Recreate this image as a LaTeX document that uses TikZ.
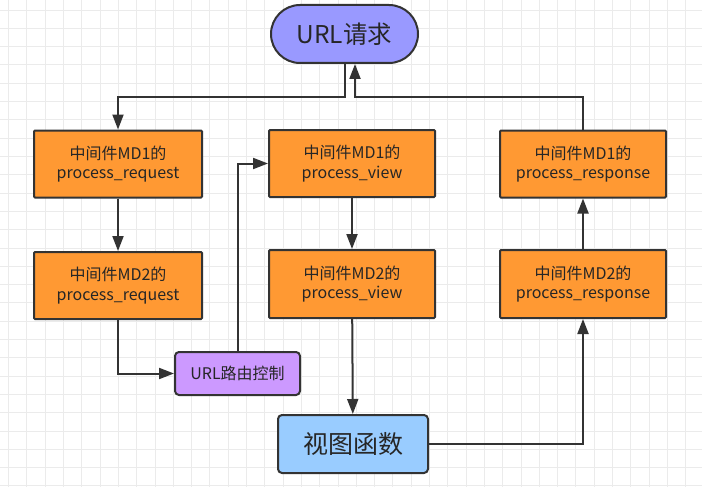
\documentclass[tikz,border=0pt]{standalone}
\usepackage{fontspec}
\setmainfont{Noto Sans CJK SC}
\usetikzlibrary{arrows.meta,shapes.misc}
\definecolor{edge}{HTML}{333333}
\definecolor{orangefill}{HTML}{FF9933}
\definecolor{purplefill}{HTML}{CC99FF}
\definecolor{bluefill}{HTML}{9999FF}
\definecolor{skyfill}{HTML}{99CCFF}
\definecolor{gridc}{HTML}{EBEBEB}
\tikzset{
  base/.style={draw=edge, line width=2pt, text=black!85, align=center, inner sep=0pt},
  mid/.style={base, fill=orangefill, rounded corners=1pt, minimum width=168pt, minimum height=67pt, font=\fontsize{16}{19.5}\selectfont},
  flow/.style={draw=edge, line width=2pt, -{Triangle[width=11pt,length=15pt]}},
  plain/.style={draw=edge, line width=2pt}
}
\begin{document}
\begin{tikzpicture}[x=1pt,y=-1pt]
\useasboundingbox (0,0) rectangle (702,487);
\fill[white] (0,0) rectangle (702,487);
\foreach \i in {0,...,38} {\draw[gridc, line width=0.8pt] ({8.5+18.3*\i},0) -- ({8.5+18.3*\i},487);}
\foreach \j in {0,...,26} {\draw[gridc, line width=0.8pt] (0,{10+18.3*\j}) -- (702,{10+18.3*\j});}

\node[base, fill=bluefill, rounded rectangle, minimum width=147pt, minimum height=58pt, font=\fontsize{24.5}{28}\selectfont] (url) at (344.5,34) {URL请求};

\node[mid] (req1) at (118,164) {中间件MD1的\\process\_request};
\node[mid] (req2) at (118,285.5) {中间件MD2的\\process\_request};
\node[mid, minimum width=166pt] (view1) at (352,163.5) {中间件MD1的\\process\_view};
\node[mid, minimum width=166pt, minimum height=68pt] (view2) at (352,284) {中间件MD2的\\process\_view};
\node[mid, minimum width=166pt] (resp1) at (583,164) {中间件MD1的\\process\_response};
\node[mid, minimum width=166pt, minimum height=68pt] (resp2) at (583,284) {中间件MD2的\\process\_response};

\node[base, fill=purplefill, rounded corners=4pt, minimum width=125pt, minimum height=43pt, font=\fontsize{16}{19}\selectfont] (route) at (237.5,373.5) {URL路由控制};
\node[base, fill=skyfill, rounded corners=4pt, minimum width=150pt, minimum height=58pt, font=\fontsize{25}{29}\selectfont] (func) at (353,444) {视图函数};

\coordinate (a1) at (345,97);
\coordinate (a2) at (118,97);
\coordinate (b1) at (583,97);
\coordinate (b2) at (355,97);

\draw[flow] (url.south -| a1) -- (a1) -- (a2) -- (req1.north);
\draw[flow] (resp1.north) -- (b1) -- (b2) -- (url.south -| b2);
\draw[flow] (req1) -- (req2);
\draw[flow] (req2.south) |- (route.west);
\draw[flow] (route.north -| 238,0) |- (view1.west);
\draw[flow] (view1) -- (view2);
\draw[flow] (view2) -- (func);
\draw[flow] (func.east) -| (resp2.south);
\draw[flow] (resp2) -- (resp1);
\end{tikzpicture}
\end{document}
